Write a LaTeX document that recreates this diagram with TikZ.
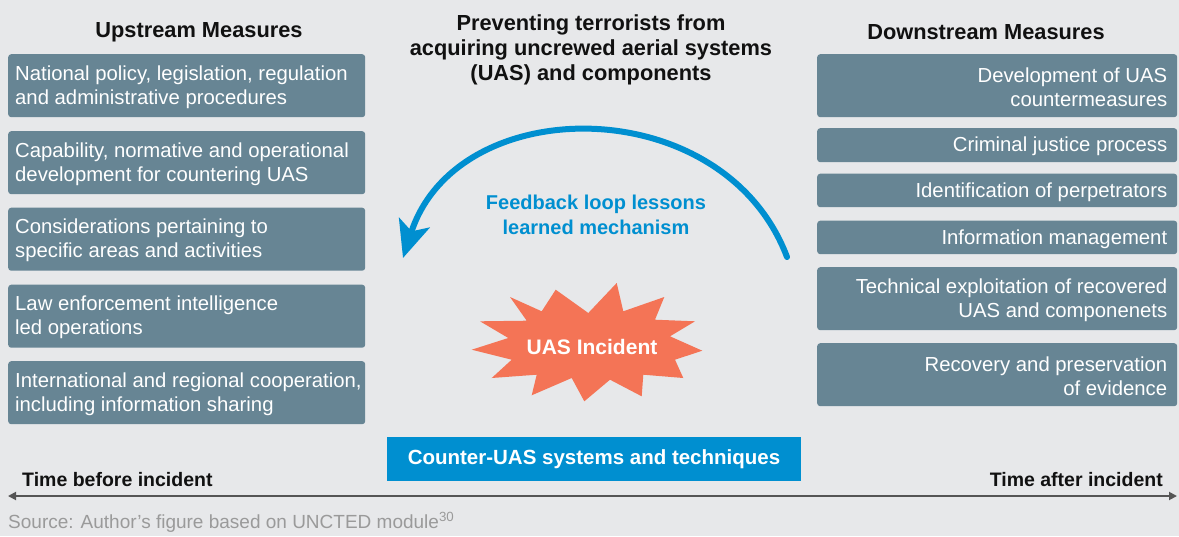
\documentclass[tikz,border=0pt]{standalone}
\usepackage{fontspec}
\setmainfont{Liberation Sans}
\usetikzlibrary{arrows.meta}
\definecolor{bgc}{HTML}{E7E8EA}
\definecolor{boxc}{HTML}{678594}
\definecolor{bluec}{HTML}{008FD0}
\definecolor{orangec}{HTML}{F47456}
\definecolor{linec}{HTML}{555555}
\definecolor{srcc}{HTML}{9A9A9A}
\definecolor{titlec}{HTML}{111111}
\begin{document}
\begin{tikzpicture}[x=1pt,y=-1pt,
  mbox/.style={fill=boxc, draw=none, rounded corners=3pt, anchor=north west, inner sep=0pt, minimum width=357pt},
  rbox/.style={fill=boxc, draw=none, rounded corners=3pt, anchor=north west, inner sep=0pt, minimum width=360pt},
  ltext/.style={text=white, inner sep=0pt, align=left, anchor=west, font=\fontsize{20.3}{24}\selectfont},
  rtext/.style={text=white, inner sep=0pt, align=right, anchor=east, font=\fontsize{20.3}{24}\selectfont},
  ttl/.style={text=titlec, inner sep=0pt, align=center, font=\bfseries\fontsize{21.8}{25}\selectfont},
  tlabel/.style={text=titlec, inner sep=0pt, font=\bfseries\fontsize{19.5}{22}\selectfont}
]
\useasboundingbox[fill=bgc] (0,0) rectangle (1179,536);

% titles
\node[ttl] (uptitle) at (199,32) {Upstream Measures};
\node[ttl] (downtitle) at (986,32) {Downstream Measures};
\node[ttl] (ctitle) at (591,50) {Preventing terrorists from\\acquiring uncrewed aerial systems\\(UAS) and components};

% upstream boxes
\node[mbox, minimum height=63pt] (u1) at (8,54) {};
\node[mbox, minimum height=63pt] (u2) at (8,131) {};
\node[mbox, minimum height=63pt] (u3) at (8,207.5) {};
\node[mbox, minimum height=63pt] (u4) at (8,284.5) {};
\node[mbox, minimum height=63pt] (u5) at (8,361) {};
\node[ltext] (u1t) at ([xshift=7pt,yshift=-1.5pt]u1.west) {National policy, legislation, regulation\\and administrative procedures};
\node[ltext] (u2t) at ([xshift=7pt,yshift=-1.5pt]u2.west) {Capability, normative and operational\\development for countering UAS};
\node[ltext] (u3t) at ([xshift=7pt,yshift=-1.5pt]u3.west) {Considerations pertaining to\\specific areas and activities};
\node[ltext] (u4t) at ([xshift=7pt,yshift=-1.5pt]u4.west) {Law enforcement intelligence\\led operations};
\node[ltext] (u5t) at ([xshift=7pt,yshift=-1.5pt]u5.west) {International and regional cooperation,\\including information sharing};

% downstream boxes
\node[rbox, minimum height=63pt] (d1) at (817,54) {};
\node[rbox, minimum height=34pt] (d2) at (817,128) {};
\node[rbox, minimum height=33.5pt] (d3) at (817,173.5) {};
\node[rbox, minimum height=33.5pt] (d4) at (817,220.5) {};
\node[rbox, minimum height=63pt] (d5) at (817,267) {};
\node[rbox, minimum height=63pt] (d6) at (817,343) {};
\node[rtext] (d1t) at ([xshift=-10pt,yshift=-1.5pt]d1.east) {Development of UAS\\countermeasures};
\node[rtext] (d2t) at ([xshift=-10pt,yshift=-1.5pt]d2.east) {Criminal justice process};
\node[rtext] (d3t) at ([xshift=-10pt,yshift=-1.5pt]d3.east) {Identification of perpetrators};
\node[rtext] (d4t) at ([xshift=-10pt,yshift=-1.5pt]d4.east) {Information management};
\node[rtext] (d5t) at ([xshift=-10pt,yshift=-1.5pt]d5.east) {Technical exploitation of recovered\\UAS and componenets};
\node[rtext] (d6t) at ([xshift=-10pt,yshift=-1.5pt]d6.east) {Recovery and preservation\\of evidence};

% feedback loop
\coordinate (fbstart) at (787,257);
\coordinate (fbend) at (403,258);
\draw[bluec, line width=6pt, line cap=round, -{Stealth[length=37pt,width=32pt,inset=9pt]}]
  (fbstart) .. controls (724,90) and (457,90) .. (fbend);
\node[text=bluec, inner sep=0pt, align=center, font=\bfseries\fontsize{20}{25}\selectfont] (fbtext) at (596,215) {Feedback loop lessons\\learned mechanism};

% starburst
\fill[orangec] (471.7,349.7) -- (508.3,338) -- (480,321.3) -- (526.7,320.7) -- (510,297)
  -- (541.7,311.3) -- (555.7,289.7) -- (588.3,313) -- (616.7,283) -- (623.3,311.3)
  -- (664.3,297) -- (655,319.7) -- (695,321.3) -- (670,336.3) -- (702.3,350.7)
  -- (675,359.7) -- (683.3,378) -- (643.3,374.7) -- (641.7,396.3) -- (610,379.7)
  -- (584.3,401.3) -- (571.7,378) -- (531.7,395.3) -- (536.7,374.7) -- (491.7,378)
  -- (511.7,359.7) -- cycle;
\node[text=white, inner sep=0pt, font=\bfseries\fontsize{21}{25}\selectfont] (incident) at (592,347) {UAS Incident};

% counter-UAS box
\node[fill=bluec, text=white, inner sep=0pt, minimum width=414pt, minimum height=44pt, font=\bfseries\fontsize{20.5}{24}\selectfont] (counter) at (594,459) {Counter-UAS systems and techniques};

% timeline
\coordinate (tl) at (8,496);
\coordinate (tr) at (1177,496);
\draw[linec, line width=1.8pt, {Triangle[length=8pt,width=8pt]}-{Triangle[length=8pt,width=8pt]}] (tl) -- (tr);
\node[tlabel, anchor=base west] (before) at (22,486) {Time before incident};
\node[tlabel, anchor=base east] (after) at (1163,486) {Time after incident};

% source
\node[text=srcc, inner sep=0pt, anchor=base west, font=\fontsize{19}{22}\selectfont] (source) at (8,528) {Source: Author’s figure based on UNCTED module\textsuperscript{30}};
\end{tikzpicture}
\end{document}
